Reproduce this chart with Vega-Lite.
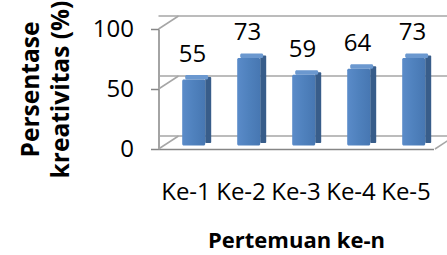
{
  "$schema": "https://vega.github.io/schema/vega-lite/v6.json",
  "width": 275,
  "height": 120,
  "autosize": {"type": "none"},
  "padding": {"left": 158.5, "top": 29, "right": 13.5, "bottom": 106},
  "background": "white",
  "config": {"view": {"stroke": null}, "font": "Open Sans"},
  "datasets": {
    "bars": [
      {"pertemuan": "Ke-1", "nilai": 55},
      {"pertemuan": "Ke-2", "nilai": 73},
      {"pertemuan": "Ke-3", "nilai": 59},
      {"pertemuan": "Ke-4", "nilai": 64},
      {"pertemuan": "Ke-5", "nilai": 73}
    ],
    "grid": [{"v": 0}, {"v": 50}, {"v": 100}]
  },
  "layer": [
    {
      "data": {"name": "grid"},
      "mark": {"type": "rule", "color": "#a6a6a6", "strokeWidth": 1.5, "xOffset": 20, "x2Offset": 20, "yOffset": -13},
      "encoding": {
        "y": {"field": "v", "type": "quantitative", "scale": {"domain": [0, 100]}}
      }
    },
    {
      "data": {"name": "grid"},
      "mark": {"type": "rule", "color": "#a6a6a6", "strokeWidth": 1.5, "xOffset": -27.5, "x2Offset": -7.5, "y2Offset": -13},
      "encoding": {
        "x": {"datum": "Ke-1", "type": "nominal"},
        "x2": {"datum": "Ke-1"},
        "y": {"field": "v", "type": "quantitative"},
        "y2": {"field": "v"}
      }
    },
    {
      "data": {"name": "grid"},
      "transform": [{"filter": "datum.v == 0"}],
      "mark": {"type": "rule", "color": "#a6a6a6", "strokeWidth": 1.5, "xOffset": 29, "x2Offset": 49, "y2Offset": -13},
      "encoding": {
        "x": {"datum": "Ke-5", "type": "nominal"},
        "x2": {"datum": "Ke-5"},
        "y": {"field": "v", "type": "quantitative"},
        "y2": {"field": "v"}
      }
    },
    {
      "data": {"name": "bars"},
      "mark": {"type": "bar", "width": 6, "xOffset": 22.2, "yOffset": -6, "y2Offset": -6, "color": "#385d8a", "cornerRadius": 1},
      "encoding": {
        "x": {"field": "pertemuan", "type": "nominal"},
        "y": {"field": "nilai", "type": "quantitative"},
        "y2": {"datum": 0}
      }
    },
    {
      "data": {"name": "bars"},
      "mark": {"type": "bar", "width": 23, "xOffset": 10.7, "yOffset": -8, "y2Offset": -3.5, "color": "#6b98cf", "cornerRadius": 1.5},
      "encoding": {
        "x": {"field": "pertemuan", "type": "nominal"},
        "y": {"field": "nilai", "type": "quantitative"},
        "y2": {"field": "nilai"}
      }
    },
    {
      "data": {"name": "bars"},
      "mark": {
        "type": "bar", "width": 23, "xOffset": 7.7, "yOffset": -3.5, "y2Offset": -3.5, "cornerRadius": 1.5,
        "color": {"gradient": "linear", "x1": 0, "x2": 1, "y1": 0, "y2": 0,
          "stops": [{"offset": 0, "color": "#5a8bc9"}, {"offset": 0.5, "color": "#4f81bd"}, {"offset": 1, "color": "#4777b2"}]}
      },
      "encoding": {
        "x": {
          "field": "pertemuan", "type": "nominal", "sort": null,
          "scale": {"type": "band", "paddingInner": 0, "paddingOuter": 0},
          "axis": {
            "title": "Pertemuan ke-n", "domainColor": "#868686", "domainWidth": 1.5,
            "bandPosition": 0.5, "labelAlign": "center",
            "ticks": false, "tickSize": 0, "labelAngle": 0, "labelPadding": 50,
            "labelBaseline": "alphabetic", "labelFontSize": 24, "labelColor": "black",
            "titleFontSize": 22, "titleFontWeight": "bold", "titleColor": "black", "titlePadding": 26
          }
        },
        "y": {
          "field": "nilai", "type": "quantitative",
          "scale": {"domain": [0, 100]},
          "axis": {
            "values": [0, 50, 100], "grid": false, "domainColor": "#868686", "domainWidth": 1.5,
            "tickColor": "#868686", "tickWidth": 1.5, "tickSize": 8, "labelPadding": 17,
            "labelFontSize": 24, "labelColor": "black",
            "title": ["Persentase", "kreativitas (%)"], "titleFontSize": 24.5, "titleFontWeight": "bold",
            "titleColor": "black", "titleLineHeight": 30, "titlePadding": 19
          }
        },
        "y2": {"datum": 0}
      }
    },
    {
      "data": {"name": "bars"},
      "mark": {"type": "text", "dy": -21, "xOffset": 6.5, "fontSize": 24, "baseline": "alphabetic", "color": "black"},
      "encoding": {
        "x": {"field": "pertemuan", "type": "nominal"},
        "y": {"field": "nilai", "type": "quantitative"},
        "text": {"field": "nilai", "type": "quantitative"}
      }
    }
  ]
}
